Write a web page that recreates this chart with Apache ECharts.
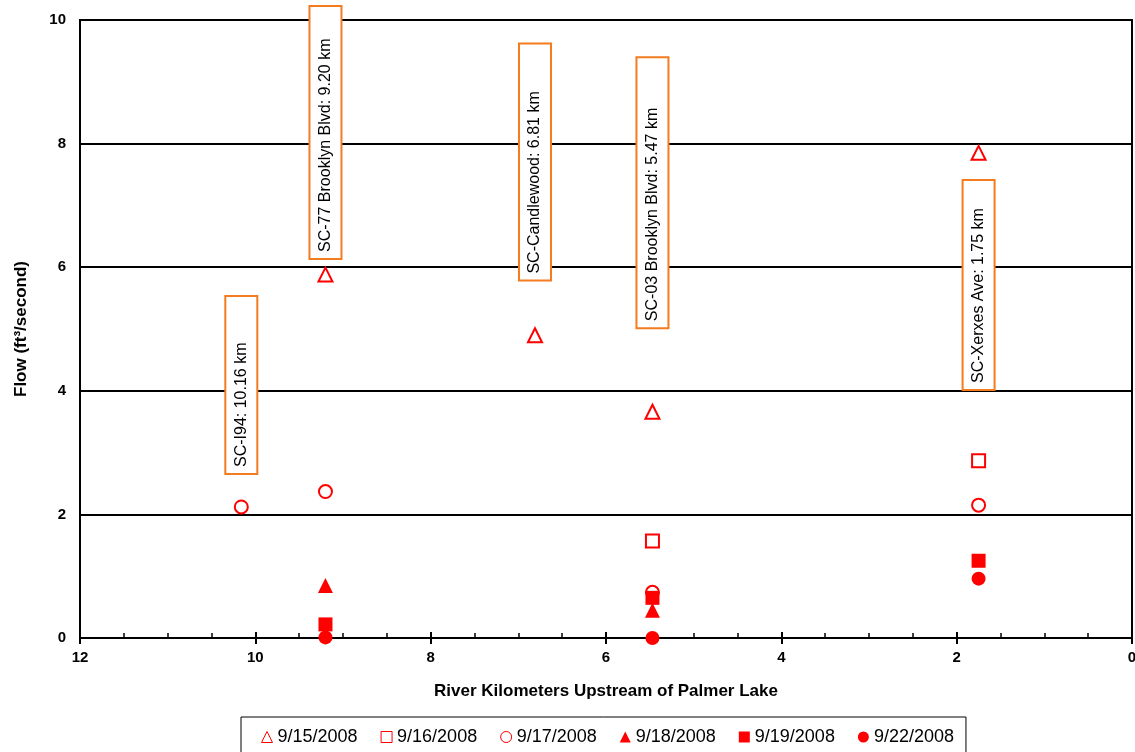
<!DOCTYPE html>
<html>
<head>
<meta charset="utf-8">
<script src="https://cdn.jsdelivr.net/npm/echarts@6/dist/echarts.min.js"></script>
<style>
  html, body { margin: 0; padding: 0; background: #fff; }
  #chart { width: 1135px; height: 752px; }
</style>
</head>
<body>
<div id="chart"></div>
<script>
// river km of each station
const stationKm = [10.16, 9.20, 6.81, 5.47, 1.75];
// flow (ft3/s) per sampling date, aligned with stationKm
const dates = ['9/15/2008', '9/16/2008', '9/17/2008', '9/18/2008', '9/19/2008', '9/22/2008'];
const flow0915 = [null, 5.88, 4.90, 3.66, 7.85];
const flow0916 = [null, null, null, 1.57, 2.87];
const flow0917 = [2.12, 2.37, null, 0.74, 2.15];
const flow0918 = [null, 0.85, null, 0.45, null];
const flow0919 = [null, 0.22, null, 0.65, 1.25];
const flow0922 = [null, 0.01, null, 0.00, 0.96];
// station call-outs
const noteText = ['SC-I94: 10.16 km', 'SC-77 Brooklyn Blvd: 9.20 km', 'SC-Candlewood: 6.81 km',
  'SC-03 Brooklyn Blvd: 5.47 km', 'SC-Xerxes Ave: 1.75 km'];
const noteKm = [10.16, 9.20, 6.81, 5.47, 1.75];
const noteBase = [2.67, 6.15, 5.8, 5.03, 4.03];
// x axis ticks
const xTicks = [12, 10, 8, 6, 4, 2, 0];

const FONT = "'Liberation Sans', Arial, sans-serif";
const RED = '#ff0000';
const ORANGE = '#f47b20';
const boxLen = [176, 251, 235, 269, 208];

// measure text so the boxes can get the reference length
const ctx = document.createElement('canvas').getContext('2d');
ctx.font = '16px ' + FONT;

const pts = (arr) => stationKm.map((km, i) => [km, arr[i]]).filter(p => p[1] !== null);

const open = { color: '#fff', borderColor: RED, borderWidth: 2, opacity: 1 };
const solid = { color: RED, opacity: 1 };

const seriesDefs = [
  { data: flow0915, symbol: 'triangle', size: 14, style: open },
  { data: flow0916, symbol: 'rect', size: 13, style: open },
  { data: flow0917, symbol: 'circle', size: 13, style: open },
  { data: flow0918, symbol: 'triangle', size: 15, style: solid },
  { data: flow0919, symbol: 'rect', size: 14, style: solid },
  { data: flow0922, symbol: 'circle', size: 14, style: solid },
];

const series = seriesDefs.map((d, i) => ({
  name: dates[i],
  type: 'scatter',
  xAxisIndex: 0,
  symbol: d.symbol,
  symbolSize: d.size,
  itemStyle: d.style,
  data: pts(d.data),
  z: 3,
}));

series.push({
  name: 'notes',
  type: 'scatter',
  xAxisIndex: 0,
  symbolSize: 0,
  silent: true,
  z: 2,
  itemStyle: { opacity: 1 },
  data: noteText.map((t, i) => {
    const w = ctx.measureText(t).width;
    return {
      value: [noteKm[i], noteBase[i]],
      label: {
        show: true,
        position: 'inside',
        formatter: t,
        rotate: 90,
        align: 'left',
        verticalAlign: 'middle',
        fontFamily: FONT,
        fontSize: 16,
        color: '#000',
        opacity: 1,
        backgroundColor: '#fff',
        borderColor: ORANGE,
        borderWidth: 2,
        padding: [7, Math.max(4, boxLen[i] - w - 6), 7, 6],
      },
    };
  }),
});

const chart = echarts.init(document.getElementById('chart'));
chart.setOption({
  animation: false,
  textStyle: { fontFamily: FONT },
  grid: {
    left: 80, right: 3, top: 20, bottom: 114,
    outerBoundsMode: 'none',
    show: true, borderColor: '#000', borderWidth: 2,
  },
  legend: {
    data: dates,
    left: 241,
    top: 717,
    padding: [11, 12, 14, 20],
    itemGap: 23,
    itemWidth: 11,
    itemHeight: 11,
    itemTextGap: 3,
    borderColor: '#000',
    borderWidth: 1,
    itemStyle: { borderWidth: 1 },
    textStyle: { fontFamily: FONT, fontSize: 18, color: '#000' },
  },
  xAxis: [{
    type: 'value',
    min: 0, max: 12, interval: 2,
    inverse: true,
    name: 'River Kilometers Upstream of Palmer Lake',
    nameLocation: 'middle',
    nameGap: 45,
    nameTextStyle: { fontFamily: FONT, fontSize: 17, fontWeight: 'bold', color: '#000' },
    axisLine: { lineStyle: { color: '#000', width: 2 } },
    axisTick: { inside: true, length: 6, lineStyle: { color: '#000', width: 2 } },
    minorTick: { show: true, splitNumber: 4, length: 5, lineStyle: { color: '#000', width: 1.5 } },
    axisLabel: {
      margin: 12, fontSize: 15, fontWeight: 'bold', color: '#000',
      customValues: xTicks, formatter: (v) => String(v),
    },
    splitLine: { show: false },
  }, {
    // downward part of the major ticks
    type: 'value',
    position: 'bottom',
    min: 0, max: 12, interval: 2,
    inverse: true,
    axisLine: { show: false },
    axisTick: { show: true, inside: false, length: 6, lineStyle: { color: '#000', width: 2 } },
    axisLabel: { show: false },
    splitLine: { show: false },
  }],
  yAxis: {
    type: 'value',
    min: 0, max: 10, interval: 2,
    name: 'Flow (ft³/second)',
    nameLocation: 'middle',
    nameGap: 50,
    nameTextStyle: { fontFamily: FONT, fontSize: 17, fontWeight: 'bold', color: '#000' },
    axisLine: { show: true, lineStyle: { color: '#000', width: 2 } },
    axisTick: { show: true, length: 6, lineStyle: { color: '#000', width: 2 } },
    axisLabel: { margin: 14, fontSize: 15, fontWeight: 'bold', color: '#000' },
    splitLine: { lineStyle: { color: '#000', width: 2 } },
  },
  series: series,
});
</script>
</body>
</html>
